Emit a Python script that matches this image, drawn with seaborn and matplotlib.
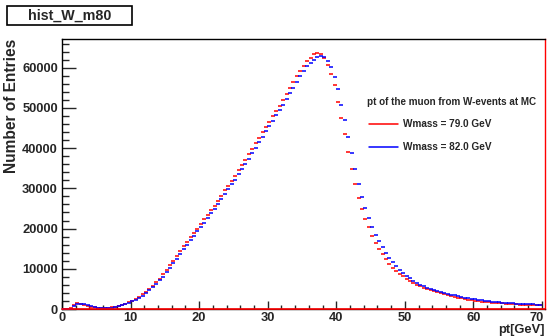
import numpy as np
import pandas as pd
import matplotlib
matplotlib.use("Agg")
import matplotlib.pyplot as plt
import seaborn as sns
from matplotlib.ticker import MultipleLocator
from matplotlib.lines import Line2D
from matplotlib.patches import Rectangle
from matplotlib.transforms import ScaledTranslation

# ---------------- data ----------------
hist_name = "hist_W_m80"
x_label = "pt[GeV]"
y_label = "Number of Entries"
legend_title = "pt of the muon from W-events at MC"
series_names = ["Wmass = 79.0 GeV", "Wmass = 82.0 GeV"]
series_colors = ["#ff0000", "#0000ff"]

bin_low = 0.0
bin_width = 0.5

entries_79 = [
    0, 0, 150, 900, 1400, 1300, 1100, 850, 600, 400,
    250, 180, 200, 280, 420, 600, 800, 1050, 1350, 1700,
    2050, 2500, 3050, 3650, 4300, 5000, 5800, 6650, 7550, 8600,
    9700, 10850, 12000, 13200, 14400, 15550, 16700, 17800, 18900, 20000,
    21100, 22300, 23400, 24600, 25700, 26900, 28200, 29500, 30700, 31900,
    33200, 34500, 35800, 37100, 38500, 39900, 41200, 42600, 44000, 45300,
    46600, 48000, 49300, 50600, 52000, 53400, 54900, 56400, 57900, 59300,
    60500, 61600, 62500, 63300, 63700, 63500, 62400, 60800, 58500, 55600,
    51500, 47400, 43400, 39000, 34900, 31000, 27700, 24800, 22400, 20300,
    18200, 16500, 14900, 13600, 12400, 11300, 10300, 9500, 8800, 8100,
    7500, 6950, 6450, 6000, 5600, 5250, 4950, 4650, 4400, 4150,
    3900, 3650, 3450, 3250, 3050, 2850, 2650, 2450, 2300, 2150,
    2050, 1950, 1850, 1750, 1650, 1570, 1500, 1430, 1370, 1310,
    1250, 1200, 1150, 1100, 1060, 1020, 980, 950, 920, 890,
]

entries_82 = [
    0, 0, 120, 850, 1350, 1300, 1120, 880, 630, 430,
    280, 200, 190, 240, 360, 520, 700, 930, 1200, 1520,
    1880, 2280, 2780, 3350, 3950, 4650, 5400, 6200, 7100, 8050,
    9100, 10200, 11350, 12550, 13700, 14900, 16000, 17100, 18200, 19300,
    20400, 21500, 22600, 23800, 24900, 26100, 27300, 28600, 29800, 31000,
    32200, 33500, 34800, 36100, 37400, 38800, 40100, 41500, 42900, 44200,
    45500, 46800, 48200, 49500, 50800, 52200, 53600, 55000, 56500, 57900,
    59200, 60400, 61300, 62000, 62600, 62900, 62700, 61700, 60300, 57700,
    54800, 50800, 46900, 42800, 38700, 34700, 31000, 27800, 25000, 22600,
    20400, 18500, 16800, 15300, 13900, 12700, 11600, 10600, 9700, 8900,
    8200, 7600, 7000, 6500, 6050, 5650, 5300, 5000, 4750, 4500,
    4250, 4000, 3780, 3570, 3370, 3180, 3000, 2820, 2650, 2500,
    2370, 2250, 2140, 2030, 1930, 1840, 1750, 1670, 1600, 1530,
    1470, 1410, 1350, 1300, 1250, 1210, 1170, 1130, 1100, 1070,
]

x_ticks = [0, 10, 20, 30, 40, 50, 60, 70]
y_ticks = [0, 10000, 20000, 30000, 40000, 50000, 60000]

# ---------------- figure ----------------
sns.set_style("ticks")
plt.rcParams["font.family"] = ["Liberation Sans", "DejaVu Sans"]
plt.rcParams["font.weight"] = "bold"

W, H = 547, 336
fig = plt.figure(figsize=(W / 100, H / 100), dpi=100)
fig.patch.set_facecolor("white")

ax_l, ax_r, ax_t, ax_b = 62, 545, 39, 309
ax = fig.add_axes([ax_l / W, 1 - ax_b / H, (ax_r - ax_l) / W, (ax_b - ax_t) / H])
ax.set_facecolor("white")

centers = bin_low + bin_width * (np.arange(len(entries_79)) + 0.5)
df = pd.DataFrame({
    "pt": np.concatenate([centers, centers]),
    "entries": entries_79 + entries_82,
    "series": [series_names[0]] * len(entries_79) + [series_names[1]] * len(entries_82),
})

px_per_unit = (ax_r - ax_l) / 70.45
marker_len_pt = bin_width * px_per_unit * 72 / 100
for name, col in zip(series_names, series_colors):
    sub = df[df["series"] == name]
    sns.scatterplot(data=sub, x="pt", y="entries", color=col, marker="_",
                    s=marker_len_pt ** 2, linewidth=1.1, ax=ax, legend=False,
                    zorder=3)

ax.set_xlim(0, 70.45)
ax.set_ylim(0, 67150)

# red histogram baseline / right edge
ax.axhline(0, color=series_colors[0], lw=1.2, zorder=4, clip_on=False)

for s in ["left", "top", "bottom"]:
    ax.spines[s].set_color("black")
    ax.spines[s].set_linewidth(1.0)
ax.spines["right"].set_color(series_colors[0])
ax.spines["right"].set_linewidth(1.0)

ax.set_xticks(x_ticks)
ax.set_yticks(y_ticks)
ax.xaxis.set_minor_locator(MultipleLocator(2))
ax.yaxis.set_minor_locator(MultipleLocator(2000))
ax.tick_params(axis="y", which="major", direction="in", length=10, width=1,
               labelsize=9.3, pad=3)
ax.tick_params(axis="y", which="minor", direction="in", length=5, width=1)
ax.tick_params(axis="x", which="major", direction="in", length=6, width=1,
               labelsize=9.3, pad=2.5)
ax.tick_params(axis="x", which="minor", direction="in", length=3, width=1)
for lab in ax.get_xticklabels() + ax.get_yticklabels():
    lab.set_fontweight("bold")
# keep the last x tick label inside the canvas
last_lab = ax.get_xticklabels()[-1]
last_lab.set_transform(last_lab.get_transform() +
                       ScaledTranslation(-5 / 100, 0, fig.dpi_scale_trans))

ax.set_xlabel("")
ax.set_ylabel("")
fig.text(ax_r / W, 1 - 329.5 / H, x_label, ha="right", va="center",
         fontsize=9.3, fontweight="bold")
fig.text(12 / W, 1 - ax_t / H, y_label, ha="center", va="top", rotation=90,
         fontsize=11.2, fontweight="bold")

# title box
fig.patches.append(Rectangle((7 / W, 1 - 25 / H), 125 / W, 19 / H,
                             transform=fig.transFigure, fill=True,
                             facecolor="white", edgecolor="black", lw=1.2))
fig.text(69.5 / W, 1 - 15.5 / H, hist_name, ha="center", va="center",
         fontsize=10.3, fontweight="bold")

# legend
fig.text(367 / W, 1 - 102 / H, legend_title, ha="left", va="center",
         fontsize=7.1, fontweight="bold")
for i, (name, col) in enumerate(zip(series_names, series_colors)):
    yy = 1 - (124 + 22.7 * i) / H
    fig.lines.append(Line2D([369 / W, 398 / W], [yy, yy], color=col, lw=1.1,
                            transform=fig.transFigure))
    fig.text(403 / W, yy, name, ha="left", va="center", fontsize=7.2,
             fontweight="bold")

fig.savefig("out.png", dpi=100, facecolor="white")
